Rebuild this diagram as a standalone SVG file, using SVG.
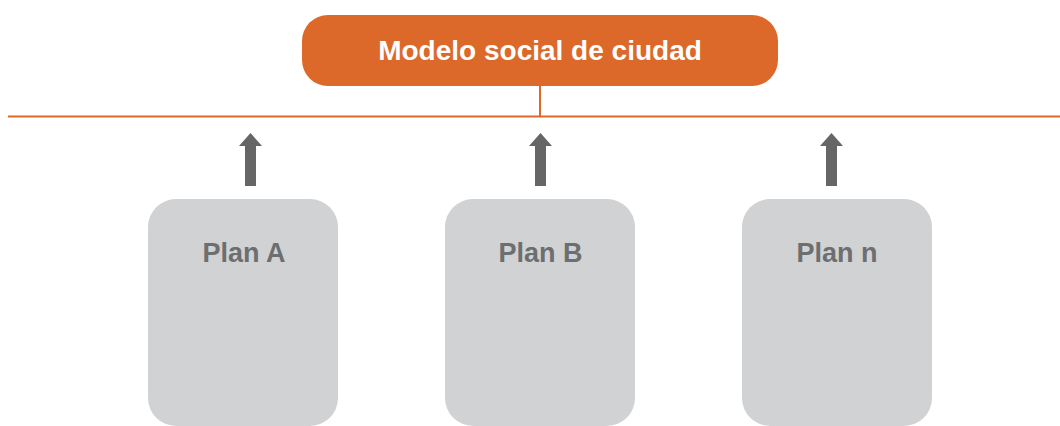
<svg xmlns="http://www.w3.org/2000/svg" width="1060" height="426" viewBox="0 0 1060 426">
<style>
.title{font-family:"Liberation Sans",Arial,sans-serif;font-weight:bold;font-size:28px;fill:#ffffff;text-anchor:middle}
.plan{font-family:"Liberation Sans",Arial,sans-serif;font-weight:bold;font-size:27px;fill:#6d6e70;text-anchor:middle}
.box{fill:#d1d2d4}
.line{stroke:#dc6829;stroke-width:2;fill:none}
.arrow{fill:#666666}
</style>
<rect width="1060" height="426" fill="#ffffff"/>
<g id="connectors">
<line class="line" x1="8" y1="116.5" x2="1060" y2="116.5"/>
<line class="line" x1="540" y1="86" x2="540" y2="116.5"/>
<path class="arrow" d="M245 186 V146 H239 L250.5 133 L262 146 H256 V186 Z"/>
<path class="arrow" d="M535 186 V146 H529 L540.5 133 L552 146 H546 V186 Z"/>
<path class="arrow" d="M826 186 V146 H820 L831.5 133 L843 146 H837 V186 Z"/>
</g>
<g id="title">
<rect x="302" y="15" width="476" height="71" rx="26" fill="#dc6829"/>
<text class="title" x="540" y="59.5">Modelo social de ciudad</text>
</g>
<g id="planA">
<rect class="box" x="148" y="199" width="190" height="227" rx="28"/>
<text class="plan" x="244" y="261.5">Plan A</text>
</g>
<g id="planB">
<rect class="box" x="445" y="199" width="190" height="227" rx="28"/>
<text class="plan" x="540.5" y="261.5">Plan B</text>
</g>
<g id="planN">
<rect class="box" x="742" y="199" width="190" height="227" rx="28"/>
<text class="plan" x="837" y="261.5">Plan n</text>
</g>
</svg>
